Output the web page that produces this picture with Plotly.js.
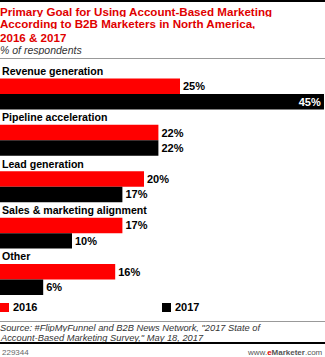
<!DOCTYPE html>
<html><head><meta charset="utf-8">
<script src="https://cdn.plot.ly/plotly-3.0.1.min.js"></script>
<style>html,body{margin:0;padding:0;background:#fff}#chart{width:325px;height:357px}</style>
</head><body><div id="chart"></div>
<script>
const categories = ["Revenue generation","Pipeline acceleration","Lead generation","Sales & marketing alignment","Other"];
const values2016 = [25,22,20,17,16];
const values2017 = [45,22,17,10,6];
const seriesNames = ["2016","2017"];

const W=325,H=357,T=63,PH=232,B=H-T-PH;
const py = p => (T+PH-p)/PH;   // pixel y -> paper y
const px = p => p/W;           // pixel x -> paper x
const FONT = "Liberation Sans, Arial, sans-serif";
const RED = "#ff0000";
const colors = [RED, "#000000"];

const yRed = categories.map((c,i)=>3*i+1);
const yBlack = categories.map((c,i)=>3*i+2);
const maxV = Math.max(...values2016, ...values2017);
const pos = arr => arr.map(v => v===maxV ? 'inside' : 'outside');

const common = {type:'bar', orientation:'h', width:1, texttemplate:'%{x}%', constraintext:'none', cliponaxis:false,
  insidetextanchor:'end', hoverinfo:'skip', showlegend:false,
  outsidetextfont:{family:FONT,size:11,color:'#000',weight:'bold'},
  insidetextfont:{family:FONT,size:11,color:'#fff',weight:'bold'}};
const traces = [
  Object.assign({}, common, {name:seriesNames[0], x:values2016, y:yRed, marker:{color:colors[0]}, textposition:pos(values2016)}),
  Object.assign({}, common, {name:seriesNames[1], x:values2017, y:yBlack, marker:{color:colors[1]}, textposition:pos(values2017)})
];

const annotations = categories.map((c,i)=>({text:'<b>'+c+'</b>', xref:'paper', x:0, y:3*i, yref:'y', xanchor:'left', yanchor:'middle', showarrow:false,
  font:{family:FONT,size:10.6,color:'#000'}}));
const titleLines = ['Primary Goal for Using Account-Based Marketing','According to B2B Marketers in North America,','2016 &amp; 2017'];
titleLines.forEach((t,i)=>annotations.push({text:'<b>'+t+'</b>', xref:'paper',yref:'paper',x:0,y:py(11+13*i),xanchor:'left',yanchor:'middle',showarrow:false,
  height:11, borderpad:0, borderwidth:0, font:{family:FONT,size:11.6,color:'#e00000'}}));
annotations.push({text:'<i>% of respondents</i>', xref:'paper',yref:'paper',x:0,y:py(50),xanchor:'left',yanchor:'middle',showarrow:false,
  height:11, borderpad:0, borderwidth:0, font:{family:FONT,size:10.5,color:'#333'}});
const srcLines = ['Source: #FlipMyFunnel and B2B News Network, "2017 State of','Account-Based Marketing Survey," May 18, 2017'];
srcLines.forEach((t,i)=>annotations.push({text:'<i>'+t+'</i>', xref:'paper',yref:'paper',x:0,y:py(327+10.5*i),xanchor:'left',yanchor:'middle',showarrow:false,
  height:9, borderpad:0, borderwidth:0, font:{family:FONT,size:9.3,color:'#333'}}));
annotations.push(
 {text:'229344', xref:'paper',yref:'paper',x:0,y:py(352),xanchor:'left',yanchor:'middle',showarrow:false,font:{family:FONT,size:8,color:'#666'}},
 {text:'www.<span style="color:#e00000"><b>e</b></span><b>Marketer</b>.com', xref:'paper',yref:'paper',x:1,y:py(352),xanchor:'right',yanchor:'middle',showarrow:false,font:{family:FONT,size:8,color:'#555'}}
);
// legend (manual)
const legX = [0,162];
seriesNames.forEach((n,i)=>annotations.push({text:'<b>'+n+'</b>', xref:'paper',yref:'paper',x:px(legX[i]+11),y:py(307),xanchor:'left',yanchor:'middle',showarrow:false,
  font:{family:FONT,size:11,color:'#000'}}));

const shapes = [
 {type:'line',xref:'paper',yref:'paper',x0:0,x1:1,y0:py(1),y1:py(1),line:{color:'#000',width:2}},
 {type:'line',xref:'paper',yref:'paper',x0:0,x1:1,y0:py(58.5),y1:py(58.5),line:{color:'#999',width:1}},
 {type:'line',xref:'paper',yref:'paper',x0:0,x1:1,y0:py(321.5),y1:py(321.5),line:{color:'#999',width:1}},
 {type:'line',xref:'paper',yref:'paper',x0:0,x1:1,y0:py(343),y1:py(343),line:{color:'#000',width:2}}
];
seriesNames.forEach((n,i)=>shapes.push({type:'rect',xref:'paper',yref:'paper',x0:px(legX[i]),x1:px(legX[i]+9),y0:py(303),y1:py(312),
  fillcolor:colors[i],line:{width:0}}));

const layout = {
  width:W,height:H,margin:{l:0,r:0,t:T,b:B,autoexpand:false},paper_bgcolor:'#fff',plot_bgcolor:'#fff',
  showlegend:false,
  barmode:'overlay',
  xaxis:{range:[0,45.14],visible:false,fixedrange:true},
  yaxis:{range:[14.5,-0.5],visible:false,fixedrange:true},
  annotations:annotations, shapes:shapes, hovermode:false
};
Plotly.newPlot('chart',traces,layout,{displayModeBar:false,staticPlot:true});
</script></body></html>
